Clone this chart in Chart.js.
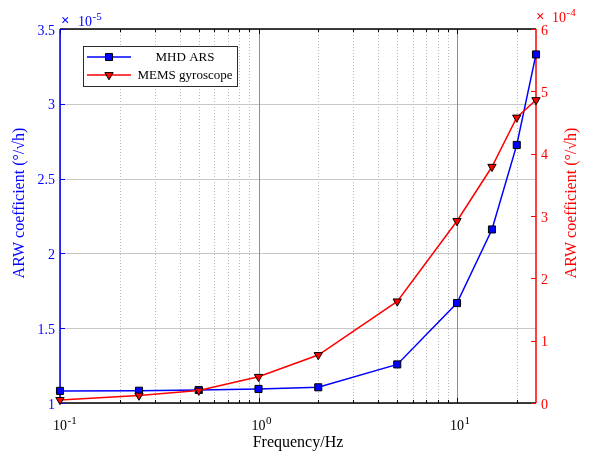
<!DOCTYPE html>
<html lang="en">
<head>
<meta charset="UTF-8">
<title>ARW coefficient vs frequency</title>
<script src="https://cdn.jsdelivr.net/npm/chart.js"></script>
<style>
  html, body { margin: 0; padding: 0; background: #fff; }
</style>
</head>
<body>
<canvas id="arwChart" width="589" height="460"></canvas>
<script>
// Test frequencies (Hz)
const frequencies = [0.1, 0.25, 0.5, 1, 2, 5, 10, 15, 20, 25];
// MHD ARS, in units of 1e-5 deg/sqrt(h)
const mhdArs = [1.081, 1.082, 1.087, 1.094, 1.105, 1.258, 1.668, 2.16, 2.725, 3.33];
// MEMS gyroscope, in units of 1e-4 deg/sqrt(h)
const memsGyro = [0.05, 0.12, 0.2, 0.42, 0.77, 1.63, 2.92, 3.79, 4.58, 4.86];

const xMajorTicks = [0.1, 1, 10];
const xMajorExp = ['-1', '0', '1'];
const xMinorTicks = [0.2, 0.3, 0.4, 0.5, 0.6, 0.7, 0.8, 0.9, 2, 3, 4, 5, 6, 7, 8, 9, 20];
const leftTicks = [1, 1.5, 2, 2.5, 3, 3.5];
const rightTicks = [0, 1, 2, 3, 4, 5, 6];

const serif = '"Liberation Serif", "Times New Roman", serif';
const BLUE = '#0000ff';
const RED = '#ff0000';

function seg(ctx, x1, y1, x2, y2) {
  ctx.beginPath();
  ctx.moveTo(x1, y1);
  ctx.lineTo(x2, y2);
  ctx.stroke();
}

// "10" with a raised exponent
function powerText(ctx, x, y, base, exp, size, align) {
  ctx.font = size + 'px ' + serif;
  const bw = ctx.measureText(base).width;
  let left = align === 'center' ? x - bw / 2 : x;
  ctx.textAlign = 'left';
  ctx.textBaseline = 'alphabetic';
  ctx.fillText(base, left, y);
  ctx.font = Math.round(size * 0.75) + 'px ' + serif;
  ctx.fillText(exp, left + bw + 0.5, y - size * 0.42);
}

function square(ctx, x, y, r, fill) {
  const s = Math.SQRT1_2 * r;
  ctx.fillStyle = fill;
  ctx.strokeStyle = '#000';
  ctx.lineWidth = 1;
  ctx.beginPath();
  ctx.rect(x - s, y - s, 2 * s, 2 * s);
  ctx.fill();
  ctx.stroke();
}

function triDown(ctx, x, y, r, fill) {
  ctx.fillStyle = fill;
  ctx.strokeStyle = '#000';
  ctx.lineWidth = 1;
  ctx.beginPath();
  ctx.moveTo(x, y + r);
  ctx.lineTo(x - r * 0.866, y - r / 2);
  ctx.lineTo(x + r * 0.866, y - r / 2);
  ctx.closePath();
  ctx.fill();
  ctx.stroke();
}

// grid, box, inward ticks, titles and legend in the MATLAB look
const matlabFrame = {
  id: 'matlabFrame',
  beforeDatasetsDraw(chart) {
    const { ctx, chartArea: a, scales } = chart;
    const x = scales.x, yL = scales.yLeft, yR = scales.yRight;
    const px = v => Math.round(x.getPixelForValue(v)) + 0.5;
    const pyL = v => Math.round(yL.getPixelForValue(v)) + 0.5;
    const pyR = v => Math.round(yR.getPixelForValue(v)) + 0.5;
    ctx.save();
    ctx.lineWidth = 1;

    // dotted minor grid
    ctx.strokeStyle = '#b9b9b9';
    ctx.setLineDash([1, 2]);
    xMinorTicks.forEach(v => seg(ctx, px(v), a.top, px(v), a.bottom));
    ctx.setLineDash([]);

    // horizontal grid from the left axis
    ctx.strokeStyle = '#c8c8c8';
    leftTicks.forEach(v => seg(ctx, a.left, pyL(v), a.right, pyL(v)));

    // decade lines
    ctx.strokeStyle = '#8f8f8f';
    xMajorTicks.forEach(v => seg(ctx, px(v), a.top, px(v), a.bottom));

    // top and bottom edges with inward ticks
    ctx.strokeStyle = '#000';
    ctx.lineWidth = 1.5;
    seg(ctx, a.left, a.top, a.right, a.top);
    seg(ctx, a.left, a.bottom, a.right, a.bottom);
    ctx.lineWidth = 1;
    xMajorTicks.forEach(v => {
      seg(ctx, px(v), a.top, px(v), a.top + 5);
      seg(ctx, px(v), a.bottom, px(v), a.bottom - 5);
    });
    xMinorTicks.forEach(v => {
      seg(ctx, px(v), a.top, px(v), a.top + 3);
      seg(ctx, px(v), a.bottom, px(v), a.bottom - 3);
    });

    // left axis, blue
    ctx.strokeStyle = BLUE;
    ctx.lineWidth = 1.5;
    seg(ctx, a.left, a.top, a.left, a.bottom);
    ctx.lineWidth = 1;
    leftTicks.forEach(v => seg(ctx, a.left, pyL(v), a.left + 5, pyL(v)));

    // right axis, red
    ctx.strokeStyle = RED;
    ctx.lineWidth = 1.5;
    seg(ctx, a.right, a.top, a.right, a.bottom);
    ctx.lineWidth = 1;
    rightTicks.forEach(v => seg(ctx, a.right, pyR(v), a.right - 5, pyR(v)));

    ctx.restore();
  },
  afterDraw(chart) {
    const { ctx, chartArea: a, scales } = chart;
    const x = scales.x;
    ctx.save();

    // x tick labels 10^n
    ctx.fillStyle = '#000';
    xMajorTicks.forEach((v, i) => {
      powerText(ctx, x.getPixelForValue(v), a.bottom + 27, '10', xMajorExp[i], 14, 'center');
    });

    // scale factors above each y axis
    ctx.fillStyle = BLUE;
    ctx.font = 'bold 15px ' + serif;
    ctx.textAlign = 'left';
    ctx.fillText('\u00d7', a.left + 1, 25);
    powerText(ctx, a.left + 18, 26, '10', '-5', 14, 'left');
    ctx.fillStyle = RED;
    ctx.font = 'bold 15px ' + serif;
    ctx.textAlign = 'left';
    ctx.fillText('\u00d7', a.right, 21);
    powerText(ctx, a.right + 16, 22, '10', '-4', 14, 'left');

    // axis titles, both reading bottom to top
    const midY = (a.top + a.bottom) / 2 - 13;
    ctx.font = '16px ' + serif;
    ctx.textAlign = 'center';
    ctx.textBaseline = 'middle';
    [[20, BLUE], [572, RED]].forEach(([tx, color]) => {
      ctx.fillStyle = color;
      ctx.save();
      ctx.translate(tx, midY);
      ctx.rotate(-Math.PI / 2);
      ctx.fillText('ARW coefficient (\u00b0/\u221ah)', 0, 0);
      ctx.restore();
    });
    ctx.fillStyle = '#000';
    ctx.fillText('Frequency/Hz', (a.left + a.right) / 2, 443);

    // legend box
    const lx = 83, ly = 46, lw = 154, lh = 40;
    ctx.fillStyle = '#fff';
    ctx.fillRect(lx, ly, lw, lh);
    ctx.strokeStyle = '#2b2b2b';
    ctx.lineWidth = 1;
    ctx.strokeRect(lx + 0.5, ly + 0.5, lw, lh);
    const rows = [
      { y: 57, color: BLUE, label: 'MHD ARS', mark: square, r: 5 },
      { y: 75, color: RED, label: 'MEMS gyroscope', mark: triDown, r: 4.8 }
    ];
    rows.forEach(row => {
      ctx.strokeStyle = row.color;
      ctx.lineWidth = 1.5;
      seg(ctx, 87, row.y, 131, row.y);
      row.mark(ctx, 109, row.y, row.r, row.color);
      ctx.fillStyle = '#000';
      ctx.font = '13px ' + serif;
      ctx.textAlign = 'center';
      ctx.textBaseline = 'middle';
      ctx.fillText(row.label, 185, row.y + 1);
    });
    ctx.restore();
  }
};

new Chart(document.getElementById('arwChart'), {
  type: 'line',
  data: {
    labels: frequencies,
    datasets: [
      {
        label: 'MHD ARS',
        data: frequencies.map((f, i) => ({ x: f, y: mhdArs[i] })),
        yAxisID: 'yLeft',
        borderColor: BLUE,
        borderWidth: 1.5,
        pointStyle: 'rect',
        pointRadius: 5,
        pointBackgroundColor: BLUE,
        pointBorderColor: '#000',
        pointBorderWidth: 1,
        tension: 0,
        order: 1
      },
      {
        label: 'MEMS gyroscope',
        data: frequencies.map((f, i) => ({ x: f, y: memsGyro[i] })),
        yAxisID: 'yRight',
        borderColor: RED,
        borderWidth: 1.5,
        pointStyle: 'triangle',
        pointRotation: 180,
        pointRadius: 4.8,
        pointBackgroundColor: RED,
        pointBorderColor: '#000',
        pointBorderWidth: 1,
        tension: 0,
        order: 0
      }
    ]
  },
  options: {
    responsive: false,
    animation: false,
    clip: false,
    layout: { padding: { top: 29, left: 0, right: 0, bottom: 0 } },
    plugins: { legend: { display: false }, tooltip: { enabled: false } },
    scales: {
      x: {
        type: 'logarithmic',
        min: 0.1,
        max: 25,
        grid: { display: false },
        border: { display: false },
        ticks: { display: false },
        afterFit: s => { s.height = 57; }
      },
      yLeft: {
        type: 'linear',
        position: 'left',
        min: 1,
        max: 3.5,
        afterBuildTicks: s => { s.ticks = leftTicks.map(v => ({ value: v })); },
        grid: { display: false, drawTicks: false },
        border: { display: false },
        ticks: {
          color: BLUE, font: { family: serif, size: 14 }, padding: 5, labelOffset: 2,
          callback: v => String(v)
        },
        afterFit: s => { s.width = 60; }
      },
      yRight: {
        type: 'linear',
        position: 'right',
        min: 0,
        max: 6,
        afterBuildTicks: s => { s.ticks = rightTicks.map(v => ({ value: v })); },
        grid: { display: false, drawTicks: false },
        border: { display: false },
        ticks: {
          color: RED, font: { family: serif, size: 14 }, padding: 5, labelOffset: 2,
          callback: v => String(v)
        },
        afterFit: s => { s.width = 53; }
      }
    }
  },
  plugins: [matlabFrame]
});
</script>
</body>
</html>
